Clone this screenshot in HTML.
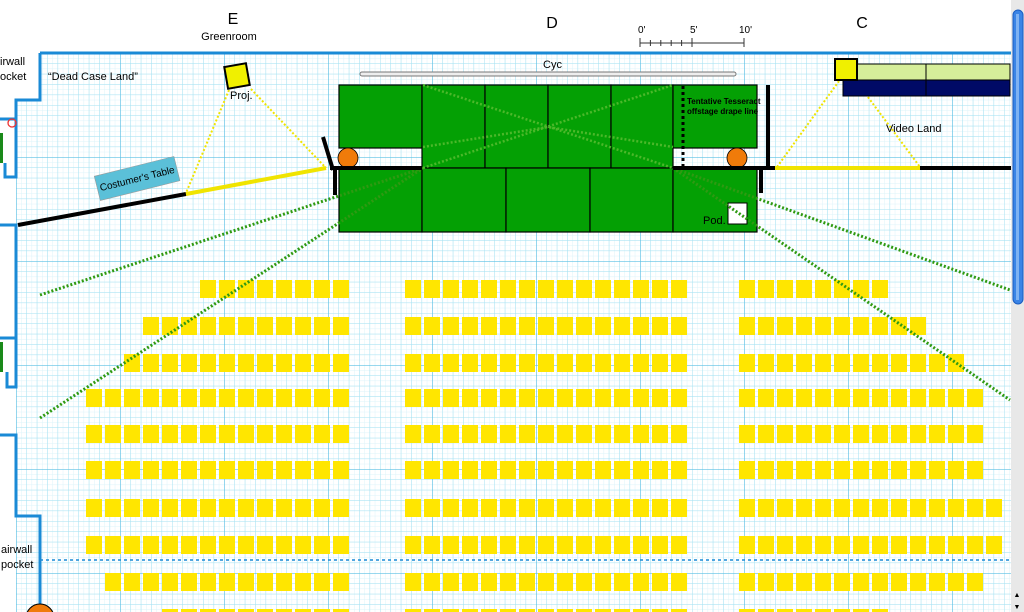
<!DOCTYPE html>
<html><head><meta charset="utf-8"><style>
html,body{margin:0;padding:0;background:#fff;}
svg{display:block;font-family:"Liberation Sans",sans-serif;}
</style></head><body>
<svg width="1024" height="612" viewBox="0 0 1024 612" xmlns="http://www.w3.org/2000/svg">
<defs>
<pattern id="g5" x="16" y="53" width="5.2" height="5.2" patternUnits="userSpaceOnUse">
<path d="M0 0V5.2M0 0H5.2" stroke="#dcf3fa" stroke-width="1" fill="none"/></pattern>
<pattern id="g10" x="16" y="53" width="10.4" height="10.4" patternUnits="userSpaceOnUse">
<path d="M0 0V10.4M0 0H10.4" stroke="#a6e2f2" stroke-width="1" fill="none"/></pattern>
<pattern id="g104" x="16" y="53" width="104" height="104" patternUnits="userSpaceOnUse">
<path d="M0 0V104M0 0H104" stroke="#5cc0e4" stroke-width="1.3" fill="none"/></pattern>
</defs>
<rect x="16" y="53" width="995" height="559" fill="url(#g5)"/>
<rect x="16" y="53" width="995" height="559" fill="url(#g10)"/>
<rect x="16" y="53" width="995" height="559" fill="url(#g104)"/>
<rect x="0" y="50" width="39" height="49" fill="#fff"/>

<g stroke="#1a8ad6" stroke-width="3" fill="none">
<path d="M40 53H1011"/>
<path d="M40 53V100H16V177H5V163"/>
<path d="M0 119H16"/>
<path d="M0 225H16V387H7V372"/>
<path d="M0 338H16"/>
<path d="M0 435H16V516H40V612"/>
</g>
<path d="M40 560H1011" stroke="#1a8ad6" stroke-width="1.5" stroke-dasharray="3,3"/>
<rect x="0" y="133" width="3" height="30" fill="#1a8a1a"/>
<rect x="0" y="342" width="3" height="30" fill="#1a8a1a"/>
<circle cx="12" cy="123" r="4" fill="none" stroke="#e33" stroke-width="1.3"/>
<circle cx="40" cy="618" r="14" fill="#f07b0a" stroke="#000"/>

<g id="seats" fill="#ffe600"></g>

<g stroke="#000" stroke-width="1.2" fill="#04a004">
<rect x="339" y="85" width="83" height="63"/>
<rect x="422" y="85" width="63" height="83"/>
<rect x="485" y="85" width="63" height="83"/>
<rect x="548" y="85" width="63" height="83"/>
<rect x="611" y="85" width="62" height="83"/>
<rect x="673" y="85" width="84" height="63"/>
<rect x="339" y="168" width="83" height="64"/>
<rect x="422" y="168" width="84" height="64"/>
<rect x="506" y="168" width="84" height="64"/>
<rect x="590" y="168" width="83" height="64"/>
<rect x="673" y="168" width="84" height="64"/>
</g>
<rect x="728" y="203" width="19" height="21" fill="#fff" stroke="#000"/>
<circle cx="348" cy="158" r="10" fill="#f07b0a" stroke="#000" stroke-width="0.8"/>
<circle cx="737" cy="158" r="10" fill="#f07b0a" stroke="#000" stroke-width="0.8"/>
<path d="M683 86V166" stroke="#000" stroke-width="3" stroke-dasharray="3,3"/>
<rect x="360" y="72" width="376" height="4" rx="2" fill="#eee" stroke="#777"/>

<g stroke="#2f9a12" stroke-width="3" stroke-dasharray="2,2" fill="none">
<path d="M40 295L423 168"/>
<path d="M40 418L423 168"/>
<path d="M673 168L1010 290"/>
<path d="M673 168L1010 400"/>
</g>
<g stroke="#4cb82a" stroke-width="2.5" stroke-dasharray="2,2" fill="none">
<path d="M423 168L673 85"/>
<path d="M423 85L673 168"/>
<path d="M423 147L548 127L673 147"/>
</g>

<g stroke="#000" stroke-width="4" fill="none">
<path d="M330 168H422"/>
<path d="M673 168H775"/>
<path d="M323 137L333 170"/>
<path d="M335 170V195"/>
<path d="M768 85V170"/>
<path d="M761 170V193"/>
<path d="M18 225L186 194"/>
<path d="M920 168H1011"/>
</g>
<path d="M186 194L326 168" stroke="#f0e400" stroke-width="4"/>
<path d="M775 168H920" stroke="#f0e400" stroke-width="4"/>
<g stroke="#f0e400" stroke-width="2" stroke-dasharray="2,2" fill="none">
<path d="M229 90L186 193"/><path d="M251 89L326 168"/>
<path d="M839 81L777 167"/><path d="M856 81L920 167"/>
</g>
<rect x="226" y="65" width="22" height="22" fill="#f0f000" stroke="#000" stroke-width="2" transform="rotate(-10 237 76)"/>
<rect x="857" y="64" width="153" height="16" fill="#d6ee9a" stroke="#000"/>
<path d="M926 64V96" stroke="#000"/>
<rect x="843" y="80" width="167" height="16" fill="#000a66" stroke="#000"/>
<path d="M926 80V96" stroke="#000"/>
<rect x="835" y="59" width="22" height="21" fill="#f0f000" stroke="#000" stroke-width="2"/>

<g transform="rotate(-14 137 178)">
<rect x="96" y="166" width="82" height="25" fill="#5bc0d8" stroke="#999" stroke-width="0.6"/>
<text x="137" y="182" font-size="10" text-anchor="middle" fill="#000">Costumer's Table</text>
</g>

<g stroke="#333" stroke-width="1">
<path d="M640 43H744"/>
<path d="M640 38V47M650.4 40V46M660.8 40V46M671.2 40V46M681.6 40V46M692 38V47M744 38V47"/>
</g>
<g font-size="10" fill="#000">
<text x="638" y="33">0'</text><text x="690" y="33">5'</text><text x="739" y="33">10'</text>
</g>

<g fill="#000">
<text x="233" y="24" font-size="16" text-anchor="middle">E</text>
<text x="229" y="40" font-size="11" text-anchor="middle">Greenroom</text>
<text x="552" y="28" font-size="16" text-anchor="middle">D</text>
<text x="862" y="28" font-size="16" text-anchor="middle">C</text>
<text x="0" y="65" font-size="11">irwall</text>
<text x="0" y="80" font-size="11">ocket</text>
<text x="48" y="80" font-size="11">“Dead Case Land”</text>
<text x="230" y="99" font-size="11">Proj.</text>
<text x="543" y="68" font-size="11">Cyc</text>
<text x="687" y="104" font-size="8" font-weight="bold">Tentative Tesseract</text>
<text x="687" y="114" font-size="8" font-weight="bold">offstage drape line</text>
<text x="886" y="132" font-size="11">Video Land</text>
<text x="703" y="224" font-size="11">Pod.</text>
<text x="1" y="553" font-size="11">airwall</text>
<text x="1" y="568" font-size="11">pocket</text>
</g>

<rect x="1011" y="0" width="13" height="612" fill="#e8e8e8"/>
<rect x="1013" y="10" width="10" height="294" rx="5" fill="#3a84e6" stroke="#1a5cc0"/>
<rect x="1016" y="14" width="3" height="286" fill="#7fb2f2"/>
<text x="1017" y="597" font-size="7" text-anchor="middle">▲</text>
<text x="1017" y="609" font-size="7" text-anchor="middle">▼</text>
</svg>
<script>
(function(){
var tops=[280,317,354,389,425,461,499,536,573,609];
var L=[8,11,12,14,14,14,14,14,13,10];
var R=[8,10,12,13,13,13,14,14,13,8];
var s='';
for(var r=0;r<10;r++){
 var y=tops[r];
 for(var i=0;i<L[r];i++){s+='<rect x="'+(333-19*i)+'" y="'+y+'" width="16" height="18"/>';}
 for(var i=0;i<15;i++){s+='<rect x="'+(405+19*i)+'" y="'+y+'" width="16" height="18"/>';}
 for(var i=0;i<R[r];i++){s+='<rect x="'+(739+19*i)+'" y="'+y+'" width="16" height="18"/>';}
}
document.getElementById('seats').innerHTML=s;
})();
</script>
</body></html>
